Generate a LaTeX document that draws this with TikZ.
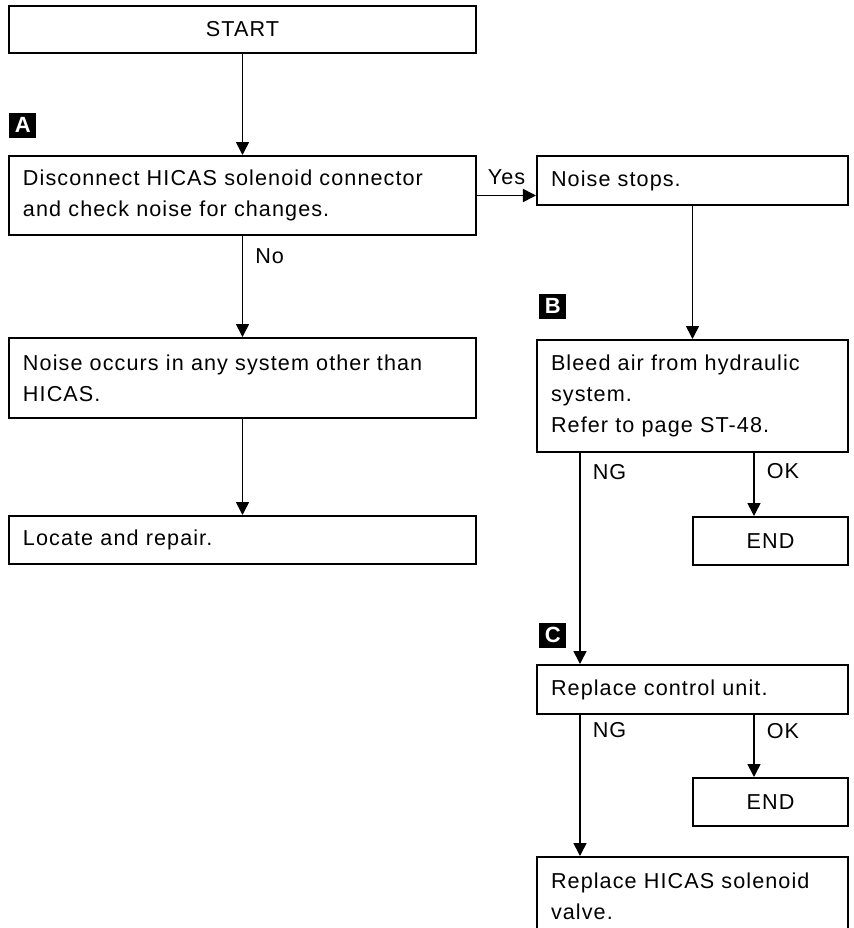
\documentclass[tikz,border=0pt]{standalone}
\usepackage{fontspec}
\setmainfont{Liberation Sans}[LetterSpace=5]
\usetikzlibrary{
    positioning,
    arrows.meta
}

\begin{document}
\begin{tikzpicture}[
    box/.style={rectangle, draw, line width=1pt, font=\fontsize{10.8pt}{15.5pt}\selectfont, inner xsep=7pt, inner ysep=0pt},
    wide/.style={box, text width=219.5pt, align=left},
    narrow/.style={box, text width=141.5pt, align=left},
    endbox/.style={box, minimum width=77.5pt, minimum height=24pt, align=center},
    tag/.style={fill=black, text=white, font=\fontsize{11pt}{11pt}\selectfont\bfseries, minimum width=13.5pt, minimum height=12.5pt, inner sep=0pt},
    arr/.style={line width=0.8pt, -{Triangle[length=6.5pt, width=6.5pt]}},
    lab/.style={font=\fontsize{10.8pt}{12pt}\selectfont, inner sep=1pt},
]
\useasboundingbox (-121.25pt,14.75pt) rectangle (305.25pt,-449.25pt);

\node[wide, align=center, minimum height=23.5pt] (start) at (0,0) {START};

\node[wide, minimum height=39.5pt, below=50.5pt of start] (disc) {%
  Disconnect HICAS solenoid connector\\
  and check noise for changes.};

\node[wide, minimum height=40pt, below=50.5pt of disc] (other) {%
  Noise occurs in any system other than\\
  HICAS.};

\node[wide, minimum height=24pt, below=48pt of other] (locate) {%
  Locate and repair.};

\node[narrow, minimum height=24.5pt, right=29.5pt of disc.north east, anchor=north west] (stops) {%
  Noise stops.};

\node[narrow, minimum height=56pt, below=66.5pt of stops] (bleed) {%
  Bleed air from hydraulic\\
  system.\\
  Refer to page ST-48.};

\node[endbox, below=31.5pt of bleed.south east, anchor=north east] (end1) {END};

\node[narrow, minimum height=24.5pt, below=105.5pt of bleed] (unit) {%
  Replace control unit.};

\node[endbox, below=31pt of unit.south east, anchor=north east] (end2) {END};

\node[narrow, minimum height=39pt, below=70.5pt of unit] (valve) {%
  Replace HICAS solenoid\\
  valve.};

% step tags
\node[tag, above right=8.5pt and 0.5pt of disc.north west] (tagA) {A};
\node[tag, above right=10pt and 1.5pt of bleed.north west] (tagB) {B};
\node[tag, above right=8pt and 1.5pt of unit.north west] (tagC) {C};

% flow
\draw[arr] (start.south) -- (disc.north);
\draw[arr] (disc.south) -- node[lab, right=5pt, pos=0.2] {No} (other.north);
\draw[arr] (other.south) -- (locate.north);
\draw[arr] (disc.east) -- node[lab, above=4pt] {Yes} (disc.east -| stops.west);
\draw[arr] (stops.south) -- (stops.south |- bleed.north);
\draw[arr] ([xshift=22pt]bleed.south west) -- node[lab, right=5pt, pos=0.09] {NG} ([xshift=22pt]bleed.south west |- unit.north);
\draw[arr] ([xshift=31pt]end1.north west |- bleed.south) -- node[lab, right=5pt, pos=0.29] {OK} ([xshift=31pt]end1.north west);
\draw[arr] ([xshift=22pt]unit.south west) -- node[lab, right=5pt, pos=0.11] {NG} ([xshift=22pt]unit.south west |- valve.north);
\draw[arr] ([xshift=31pt]end2.north west |- unit.south) -- node[lab, right=5pt, pos=0.26] {OK} ([xshift=31pt]end2.north west);
\end{tikzpicture}
\end{document}
